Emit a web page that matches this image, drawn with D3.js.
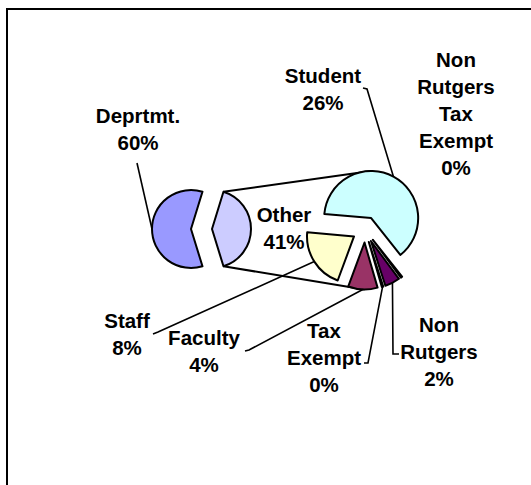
<!DOCTYPE html>
<html>
<head>
<meta charset="utf-8">
<script src="https://cdn.jsdelivr.net/npm/d3@7/dist/d3.min.js"></script>
<style>
  html, body { margin: 0; padding: 0; background: #fff; }
  svg { display: block; }
  text { font-family: "Liberation Sans", Arial, sans-serif; font-weight: bold; font-size: 20.5px; fill: #000; }
</style>
</head>
<body>
<svg id="chart" width="531" height="485"></svg>
<script>
// Share of work orders by customer type (percent of total)
const primaryCats = ["Deprtmt.", "Other"];
const deptValue = 59.5;

// Breakdown of the "Other" slice, listed clockwise from the Student slice
const secondaryCats = ["Student", "Non Rutgers Tax Exempt", "Non Rutgers", "Tax Exempt", "Faculty", "Staff"];
const secondaryVals = [25.5, 0.2, 2.1, 0.2, 4.1, 8.4];

const primaryColors = ["#9999FF", "#CCCCFF"];
const secondaryColors = ["#CCFFFF", "#0066CC", "#660066", "#FF8080", "#993366", "#FFFFCC"];

const otherValue = d3.sum(secondaryVals);
const primaryVals = [deptValue, otherValue];
const total = d3.sum(primaryVals);
const pct = v => Math.round(v / total * 100) + "%";

const svg = d3.select("#chart");

// frame (top and left rules)
svg.append("path")
  .attr("d", "M7,485 L7,9 L531,9")
  .attr("fill", "none").attr("stroke", "#000").attr("stroke-width", 2);

// layout of the two pies
const P = { x: 201.5, y: 229, r: 39, explode: 10.5 };
const S = { x: 365, y: 229.5, r: 47, explode: 13, start: -85 * Math.PI / 180 };

const pt = (cx, cy, a, r) => [cx + r * Math.sin(a), cy - r * Math.cos(a)];

// primary pie: "Other" centred on the right-hand side
const otherSpan = 2 * Math.PI * otherValue / total;
const primaryStart = Math.PI / 2 + otherSpan / 2;
const primaryArcs = d3.pie().sort(null)
  .startAngle(primaryStart).endAngle(primaryStart + 2 * Math.PI)(primaryVals);

const secondaryArcs = d3.pie().sort(null)
  .startAngle(S.start).endAngle(S.start + 2 * Math.PI)(secondaryVals);

function apex(c, d) {
  const mid = (d.startAngle + d.endAngle) / 2;
  return pt(c.x, c.y, mid, c.explode);
}

const primaryArc = d3.arc().innerRadius(0).outerRadius(P.r);
const secondaryArc = d3.arc().innerRadius(0).outerRadius(S.r);

// connector lines from the "Other" slice to the breakdown pie
const oth = primaryArcs[1];
const oApex = apex(P, oth);
const topCorner = pt(oApex[0], oApex[1], oth.startAngle, P.r);
const botCorner = pt(oApex[0], oApex[1], oth.endAngle, P.r);
const stu = secondaryArcs[0];
const fac = secondaryArcs[4];
const sApexTop = apex(S, stu);
const sApexBot = apex(S, fac);
const topTarget = pt(sApexTop[0], sApexTop[1], 0, S.r);
const botTarget = pt(sApexBot[0], sApexBot[1], Math.PI, S.r);

const line = d3.line();
svg.append("path").attr("d", line([topCorner, topTarget]))
  .attr("fill", "none").attr("stroke", "#000").attr("stroke-width", 2);
svg.append("path").attr("d", line([botCorner, botTarget]))
  .attr("fill", "none").attr("stroke", "#000").attr("stroke-width", 2);

// primary slices
svg.append("g").selectAll("path").data(primaryArcs).join("path")
  .attr("transform", d => { const a = apex(P, d); return `translate(${a[0]},${a[1]})`; })
  .attr("d", primaryArc)
  .attr("fill", (d, i) => primaryColors[i])
  .attr("stroke", "#000").attr("stroke-width", 2).attr("stroke-linejoin", "round");

// label placement: centre x, first baseline, leader start (with optional tick)
const lineGap = 27;
const primaryLabels = [
  { x: 138, y: 123, lead: [[137, 163]] },
  { x: 284, y: 222, lead: null }
];
const secondaryLabels = [
  { x: 323, y: 83, lead: [[363, 88], [367, 89]] },
  { x: 456, y: 67, lead: null },
  { x: 439, y: 332, lead: [[399, 354], [393, 354]] },
  { x: 324, y: 338, lead: [[364, 363], [368, 363]] },
  { x: 204, y: 345, lead: [[245, 351], [249, 350]] },
  { x: 127, y: 328, lead: [[153, 334], [158, 332]] }
];

function drawLabels(arcs, cats, layout, c, radius) {
  const g = svg.append("g");
  arcs.forEach((d, i) => {
    const L = layout[i];
    if (L.lead) {
      const a = apex(c, d);
      const mid = (d.startAngle + d.endAngle) / 2;
      const end = pt(a[0], a[1], mid, radius);
      g.append("path").attr("d", line(L.lead.concat([end])))
        .attr("fill", "none").attr("stroke", "#000").attr("stroke-width", 1.6);
    }
    const lines = cats[i].split(" ").concat([pct(d.data)]);
    const t = g.append("text").attr("text-anchor", "middle");
    lines.forEach((s, k) => {
      t.append("tspan").attr("x", L.x).attr("y", L.y + k * lineGap).text(s);
    });
  });
}

drawLabels(primaryArcs, primaryCats, primaryLabels, P, P.r);

// secondary slices
svg.append("g").selectAll("path").data(secondaryArcs).join("path")
  .attr("transform", d => { const a = apex(S, d); return `translate(${a[0]},${a[1]})`; })
  .attr("d", secondaryArc)
  .attr("fill", (d, i) => secondaryColors[i])
  .attr("stroke", "#000").attr("stroke-width", 2).attr("stroke-linejoin", "round");

drawLabels(secondaryArcs, secondaryCats, secondaryLabels, S, S.r);
</script>
</body>
</html>
